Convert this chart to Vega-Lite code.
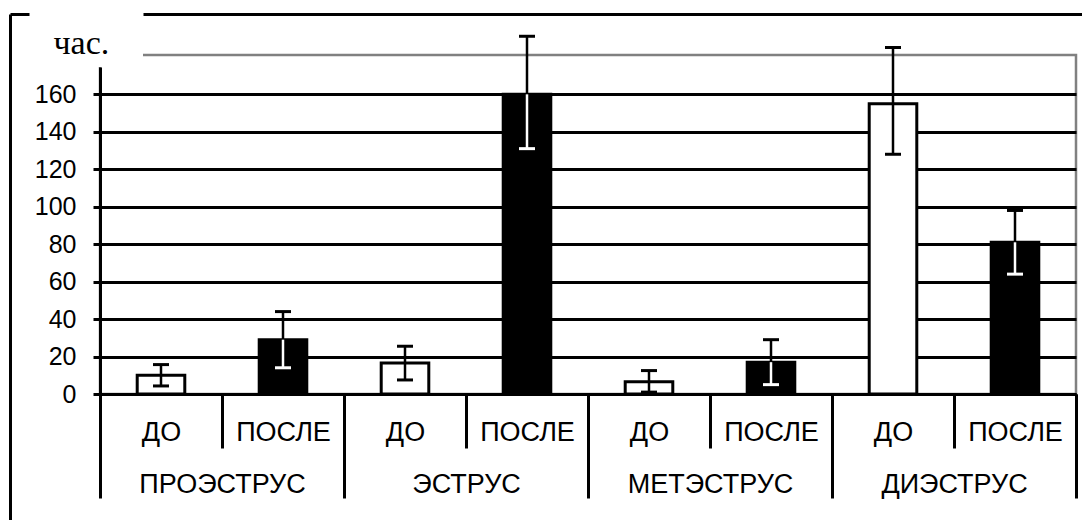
{
  "$schema": "https://vega.github.io/schema/vega-lite/v6.json",
  "width": 976,
  "height": 339,
  "autosize": "none",
  "padding": {"left": 100, "top": 55, "right": 6, "bottom": 126},
  "background": "white",
  "config": {
    "view": {"stroke": "#808080", "strokeWidth": 2.5, "strokeDash": [0, 43, 2575, 12]},
    "font": "Liberation Sans"
  },
  "data": {
    "values": [
      {"phase": "ПРОЭСТРУС", "period": "ДО", "key": "ПРОЭСТРУС ДО", "mean": 10, "lo": 4.3, "hi": 15.7},
      {"phase": "ПРОЭСТРУС", "period": "ПОСЛЕ", "key": "ПРОЭСТРУС ПОСЛЕ", "mean": 29, "lo": 14, "hi": 44},
      {"phase": "ЭСТРУС", "period": "ДО", "key": "ЭСТРУС ДО", "mean": 16.5, "lo": 7.5, "hi": 25.5},
      {"phase": "ЭСТРУС", "period": "ПОСЛЕ", "key": "ЭСТРУС ПОСЛЕ", "mean": 160, "lo": 131, "hi": 191},
      {"phase": "МЕТЭСТРУС", "period": "ДО", "key": "МЕТЭСТРУС ДО", "mean": 6.5, "lo": 1, "hi": 12.5},
      {"phase": "МЕТЭСТРУС", "period": "ПОСЛЕ", "key": "МЕТЭСТРУС ПОСЛЕ", "mean": 17, "lo": 5, "hi": 29},
      {"phase": "ДИЭСТРУС", "period": "ДО", "key": "ДИЭСТРУС ДО", "mean": 155, "lo": 128, "hi": 185},
      {"phase": "ДИЭСТРУС", "period": "ПОСЛЕ", "key": "ДИЭСТРУС ПОСЛЕ", "mean": 81, "lo": 64, "hi": 98}
    ]
  },
  "resolve": {
    "scale": {"x": "independent"},
    "axis": {"x": "independent", "y": "independent"}
  },
  "layer": [
    {
      "mark": {"type": "bar", "width": {"band": 0.39}, "stroke": "black", "strokeWidth": 3},
      "encoding": {
        "x": {
          "field": "key", "type": "nominal", "sort": null,
          "scale": {"paddingInner": 0, "paddingOuter": 0},
          "axis": {
            "orient": "bottom", "title": null, "tickBand": "extent", "tickSize": 54, "tickWidth": 3,
            "tickColor": "black", "domainColor": "black", "domainWidth": 3,
            "labelFont": "Liberation Sans", "labelFontSize": 27, "labelColor": "black",
            "labelPadding": -8, "labelBaseline": "alphabetic", "labelAngle": 0, "labelOverlap": false,
            "labelExpr": "split(datum.label, ' ')[1]"
          }
        },
        "y": {
          "field": "mean", "type": "quantitative",
          "scale": {"domain": [0, 181], "nice": false},
          "axis": {
            "orient": "left",
            "values": [0, 20, 40, 60, 80, 100, 120, 140, 160],
            "grid": true, "gridColor": "black", "gridWidth": 3,
            "domainColor": "black", "domainWidth": 3, "domainDash": [327, 20],
            "tickColor": "black", "tickWidth": 3, "tickSize": 7,
            "labelFont": "Liberation Sans", "labelFontSize": 25,
            "labelColor": "black", "labelPadding": 17,
            "title": "час.", "titleAngle": 0, "titleAlign": "left", "titleBaseline": "alphabetic",
            "titleX": -47, "titleY": -2, "titleFont": "Liberation Serif", "titleFontSize": 34,
            "titleFontWeight": "normal", "titleColor": "black"
          }
        },
        "fill": {
          "field": "period", "type": "nominal",
          "scale": {"domain": ["ДО", "ПОСЛЕ"], "range": ["white", "black"]},
          "legend": null
        }
      }
    },
    {
      "mark": {"type": "rule", "color": "black", "strokeWidth": 2.5},
      "encoding": {
        "x": {"field": "key", "type": "nominal", "sort": null, "scale": {"paddingInner": 0, "paddingOuter": 0}, "axis": null},
        "y": {"field": "mean", "type": "quantitative", "axis": null},
        "y2": {"field": "hi"}
      }
    },
    {
      "mark": {"type": "rule", "strokeWidth": 2.5},
      "encoding": {
        "x": {"field": "key", "type": "nominal", "sort": null, "scale": {"paddingInner": 0, "paddingOuter": 0}, "axis": null},
        "y": {"field": "lo", "type": "quantitative", "axis": null},
        "y2": {"field": "mean"},
        "color": {
          "field": "period", "type": "nominal",
          "scale": {"domain": ["ДО", "ПОСЛЕ"], "range": ["black", "white"]},
          "legend": null
        }
      }
    },
    {
      "mark": {"type": "tick", "orient": "horizontal", "color": "black", "size": 16, "thickness": 3, "opacity": 1},
      "encoding": {
        "x": {"field": "key", "type": "nominal", "sort": null, "scale": {"paddingInner": 0, "paddingOuter": 0}, "axis": null},
        "y": {"field": "hi", "type": "quantitative", "axis": null}
      }
    },
    {
      "mark": {"type": "tick", "orient": "horizontal", "size": 16, "thickness": 3, "opacity": 1},
      "encoding": {
        "x": {"field": "key", "type": "nominal", "sort": null, "scale": {"paddingInner": 0, "paddingOuter": 0}, "axis": null},
        "y": {"field": "lo", "type": "quantitative", "axis": null},
        "color": {
          "field": "period", "type": "nominal",
          "scale": {"domain": ["ДО", "ПОСЛЕ"], "range": ["black", "white"]},
          "legend": null
        }
      }
    },
    {
      "mark": {"type": "point", "opacity": 0},
      "encoding": {
        "x": {
          "field": "phase", "type": "nominal", "sort": null,
          "scale": {"paddingInner": 0, "paddingOuter": 0},
          "axis": {
            "orient": "bottom", "title": null, "tickBand": "extent", "tickSize": 104, "tickWidth": 3,
            "tickColor": "black", "domain": false,
            "labelFont": "Liberation Sans", "labelFontSize": 27, "labelColor": "black",
            "labelPadding": -6, "labelBaseline": "alphabetic", "labelAngle": 0, "labelOverlap": false
          }
        },
        "y": {"field": "mean", "type": "quantitative", "axis": null}
      }
    },
    {
      "mark": {"type": "point", "opacity": 0},
      "encoding": {
        "x": {
          "field": "key", "type": "nominal", "sort": null,
          "scale": {"paddingInner": 0, "paddingOuter": 0},
          "axis": {
            "orient": "top", "offset": 41, "values": ["ПРОЭСТРУС ДО"],
            "tickOffset": -151, "tickSize": -506, "tickWidth": 3, "tickColor": "black",
            "domain": false, "labels": false, "title": null, "grid": false
          }
        },
        "y": {
          "field": "mean", "type": "quantitative",
          "axis": {
            "orient": "left", "offset": 90, "values": [181], "tickOffset": -41,
            "domain": false, "labels": false,
            "grid": false, "title": null, "tickSize": -1072, "tickWidth": 3, "tickColor": "black",
            "tickDash": [19, 114, 2000]
          }
        }
      }
    }
  ]
}
